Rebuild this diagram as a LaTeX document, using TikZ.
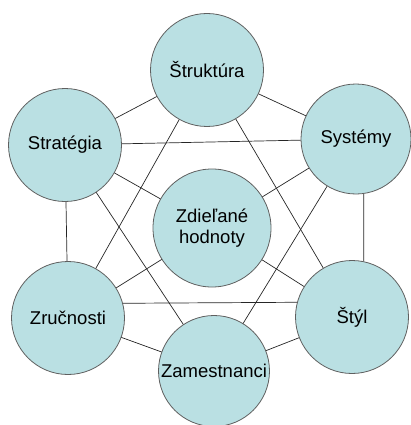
\documentclass[tikz,border=0pt]{standalone}
\usepackage{fontspec}
\setmainfont{Liberation Sans}
\usetikzlibrary{backgrounds}
\definecolor{kruh}{RGB}{186,224,227}
\definecolor{okraj}{RGB}{95,95,95}
\tikzset{
  sfera/.style={circle,draw=okraj,fill=kruh,line width=0.8pt,minimum size=113pt,inner sep=0pt,
    align=center,font=\fontsize{18.5}{21}\selectfont},
  spoj/.style={draw=black!85,line width=0.7pt}
}

\begin{document}
\begin{tikzpicture}[x=1pt,y=-1pt]
    \useasboundingbox (0,0) rectangle (410,425);
    \node[sfera] (St) at (207,70) {Štruktúra};
    \node[sfera] (Sg) at (65,145) {Stratégia};
    \node[sfera,minimum size=110pt] (Sy) at (356,139) {Systémy};
    \node[sfera,minimum size=118pt] (H) at (212,228) {Zdieľané\\hodnoty};
    \node[sfera] (Zr) at (68,318) {Zručnosti};
    \node[sfera] (Sl) at (352,317) {Štýl};
    \node[sfera,minimum size=111pt] (Za) at (214,371) {Zamestnanci};
    \begin{scope}[on background layer]
    \path[spoj] (St.center) edge (Sg.center) edge (Sy.center)
    edge (Zr.center) edge (Sl.center)
    (Sg.center) edge (Sy.center) edge (Zr.center) edge (Za.center) edge (H.center)
    (Sy.center) edge (Za.center) edge (H.center)
    (Sy.-82) edge (Sl.78)
    (Zr.15) edge (Sl.165)
    (Zr.center) edge (Za.center) edge (H.center)
    (Sl.center) edge (Za.center) edge (H.center);
    \end{scope}
\end{tikzpicture}
\end{document}
